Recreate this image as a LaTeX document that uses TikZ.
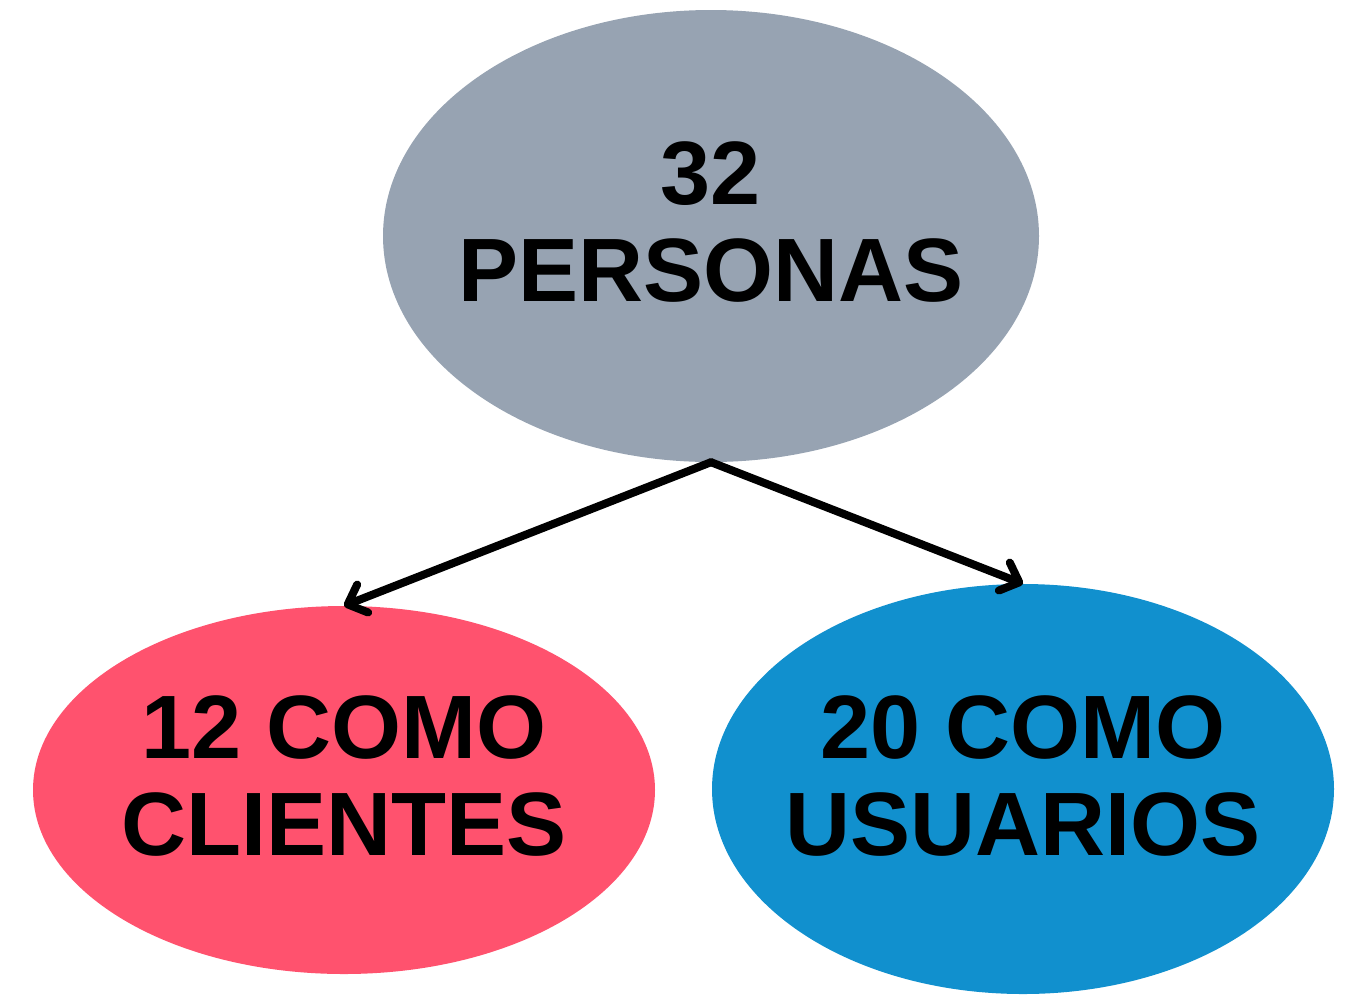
\documentclass[tikz,border=0pt]{standalone}
\usepackage{fontspec}
\setmainfont{Liberation Sans}
\usepackage{tikz}
\usetikzlibrary{shapes.geometric,arrows.meta,positioning}
\definecolor{grisazul}{RGB}{151,163,178}
\definecolor{rosa}{RGB}{255,82,110}
\definecolor{azul}{RGB}{17,144,206}
\tikzset{blob/.style={ellipse, draw=none, inner sep=0pt}}
\tikzset{bigtxt/.style={font=\fontsize{90}{97}\selectfont\bfseries, align=center, inner sep=0pt}}
\tikzset{link/.style={line width=8pt, line cap=round, line join=round,
    -{Straight Barb[length=16pt,width=30pt,line cap=round,line join=round]}}}

\begin{document}
\begin{tikzpicture}[x=1pt,y=-1pt]
  \useasboundingbox (0,0) rectangle (1346,994);

  \node[blob, fill=grisazul, minimum width=656pt, minimum height=452pt] (personas) at (711,236) {};
  \node[blob, fill=rosa, minimum width=622pt, minimum height=368pt] (clientes) at (344,790) {};
  \node[blob, fill=azul, minimum width=622pt, minimum height=410pt] (usuarios) at (1023,789) {};

  \node[bigtxt] (personastxt) at (711,222) {32\\PERSONAS};
  \node[bigtxt] (clientestxt) at (344,776) {12 COMO\\CLIENTES};
  \node[bigtxt] (usuariostxt) at (1023,776) {20 COMO\\USUARIOS};

  \draw[link] (personas.south) -- (clientes.north);
  \draw[link] (personas.south) -- (usuarios.north);
\end{tikzpicture}
\end{document}
